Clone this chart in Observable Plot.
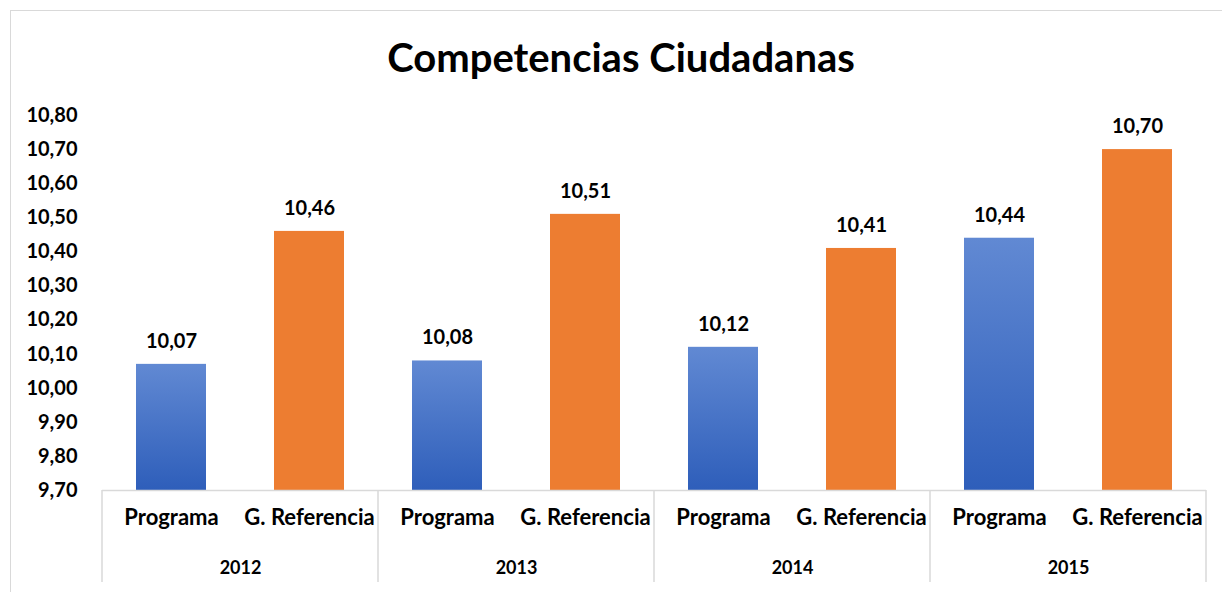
<!DOCTYPE html>
<html><head><meta charset="utf-8">
<script src="https://cdn.jsdelivr.net/npm/d3@7"></script>
<script src="https://cdn.jsdelivr.net/npm/@observablehq/plot@0.6"></script>
<style>
html,body{margin:0;padding:0;background:#fff;overflow:hidden;}
body{width:1222px;height:592px;position:relative;font-family:Lato,"Open Sans",sans-serif;}
#frame{position:absolute;left:10px;top:10px;width:1230px;height:600px;border:1.5px solid #D9D9D9;box-sizing:border-box;}
#title{position:absolute;left:10px;top:35px;width:1222px;text-align:center;font-size:40px;line-height:44px;font-weight:bold;color:#000;}
#chart{position:absolute;left:0;top:90px;}
</style></head>
<body>
<div id="frame"></div>
<div id="title">Competencias Ciudadanas</div>
<div id="chart"></div>
<script>
const years = ["2012", "2013", "2014", "2015"];
const series = ["Programa", "G. Referencia"];
const programa = [10.07, 10.08, 10.12, 10.44];
const referencia = [10.46, 10.51, 10.41, 10.70];
const yTicks = [9.7, 9.8, 9.9, 10.0, 10.1, 10.2, 10.3, 10.4, 10.5, 10.6, 10.7, 10.8];

const fmt = d => d.toFixed(2).replace(".", ",");
const data = years.flatMap((yr, i) => [
  {year: yr, serie: series[0], value: programa[i]},
  {year: yr, serie: series[1], value: referencia[i]}
]);

const chart = Plot.plot({
  width: 1222, height: 502,
  marginTop: 25, marginBottom: 102, marginLeft: 100, marginRight: 15,
  style: {fontFamily: "Lato, 'Open Sans', sans-serif", fontWeight: "bold", color: "#000", background: "transparent", overflow: "visible"},
  fx: {domain: years, padding: 0, label: null},
  x: {domain: series, paddingInner: 0.49, paddingOuter: 0.245, label: null},
  y: {domain: [9.7, 10.8], label: null},
  marks: [
    Plot.barY(data.filter(d => d.serie === series[0]), {fx: "year", x: "serie", y1: 9.7, y2: "value", fill: "url(#blueGrad)"}),
    Plot.barY(data.filter(d => d.serie === series[1]), {fx: "year", x: "serie", y1: 9.7, y2: "value", fill: "#ED7D31"}),
    Plot.ruleY([9.7], {stroke: "#D9D9D9", strokeWidth: 1.5}),
    Plot.text(data, {fx: "year", x: "serie", y: "value", text: d => fmt(d.value), dy: -23, fontSize: 20, fontWeight: "bold", fill: "#000"}),
    Plot.axisY({ticks: yTicks, tickSize: 0, tickPadding: 25, tickFormat: fmt, fontSize: 20, fontWeight: "bold", label: null}),
    Plot.axisX({tickSize: 0, tickPadding: 19, fontSize: 22, fontWeight: "bold", label: null}),
    Plot.axisFx({anchor: "bottom", tickSize: 0, tickPadding: 71, fontSize: 18, fontWeight: "bold", label: null})
  ]
});

const svg = d3.select(chart.tagName.toLowerCase() === "svg" ? chart : chart.querySelector("svg"));
const grad = svg.insert("defs", ":first-child").append("linearGradient")
  .attr("id", "blueGrad").attr("x1", 0).attr("y1", 0).attr("x2", 0).attr("y2", 1);
grad.append("stop").attr("offset", "0%").attr("stop-color", "#6189D3");
grad.append("stop").attr("offset", "100%").attr("stop-color", "#2E5EBA");

const fxs = chart.scale("fx");
const ys = chart.scale("y");
const y0 = ys.apply(9.7);
const bounds = years.map(yr => fxs.apply(yr)).concat([fxs.apply(years[years.length - 1]) + fxs.bandwidth]);
svg.append("g").selectAll("line").data(bounds).join("line")
  .attr("x1", d => d).attr("x2", d => d)
  .attr("y1", y0).attr("y2", y0 + 92)
  .attr("stroke", "#D9D9D9").attr("stroke-width", 1.5);

document.getElementById("chart").appendChild(chart);
</script>
</body></html>
